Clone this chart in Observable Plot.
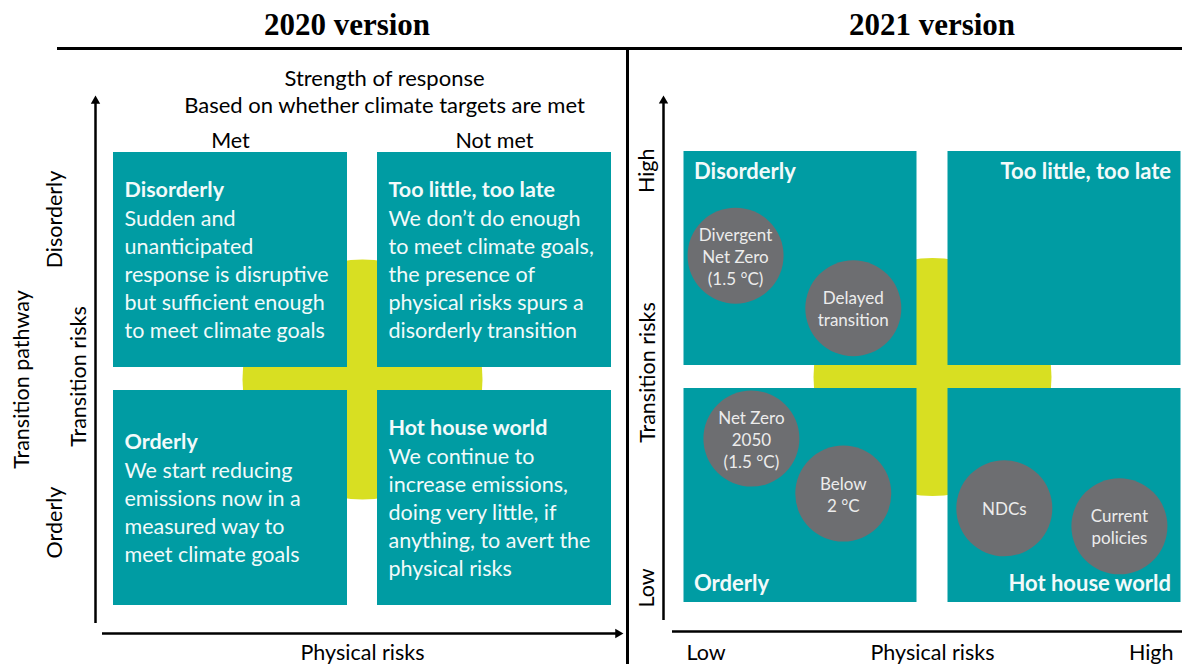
<!DOCTYPE html>
<html><head><meta charset="utf-8">
<script src="https://cdn.jsdelivr.net/npm/d3@7"></script>
<script src="https://cdn.jsdelivr.net/npm/@observablehq/plot@0.6"></script>
<style>
body{margin:0;background:#fff;}
#wrap{position:relative;width:1182px;height:664px;overflow:hidden;background:#fff;}
.vtitle{position:absolute;top:8px;width:300px;text-align:center;font:bold 31px "Liberation Serif","DejaVu Serif",serif;line-height:34px;color:#000;}
#rule{position:absolute;left:57px;top:47px;width:1125px;height:3px;background:#000;}
#divider{position:absolute;left:626px;top:47px;width:2.5px;height:617px;background:#000;}
#left{position:absolute;left:0;top:48px;width:627px;height:616px;}
#right{position:absolute;left:628px;top:48px;width:554px;height:616px;overflow:hidden;}
#left svg,#right svg{max-width:none !important;height:616px !important;display:block;}
#right svg{margin-left:-1px;}
</style></head><body>
<div id="wrap">
  <div class="vtitle" id="t0" style="left:197px"></div>
  <div class="vtitle" id="t1" style="left:782px"></div>
  <div id="rule"></div>
  <div id="left"></div>
  <div id="right"></div>
  <div id="divider"></div>
</div>
<script>
// ---------- data ----------
const versions = ["2020 version", "2021 version"];
const scoreDomain = [0, 10];

// 2020 version
const responseTitle = ["Strength of response", "Based on whether climate targets are met"];
const responseLevels = ["Met", "Not met"];
const pathwayTitle = "Transition pathway";
const pathwayLevels = ["Orderly", "Disorderly"];
const riskAxisY = "Transition risks";
const riskAxisX = "Physical risks";
const quadrants2020 = [
  {name: "Disorderly", response: "Met", pathway: "Disorderly",
   description: "Sudden and\nunanticipated\nresponse is disruptive\nbut sufficient enough\nto meet climate goals"},
  {name: "Too little, too late", response: "Not met", pathway: "Disorderly",
   description: "We don’t do enough\nto meet climate goals,\nthe presence of\nphysical risks spurs a\ndisorderly transition"},
  {name: "Orderly", response: "Met", pathway: "Orderly",
   description: "We start reducing\nemissions now in a\nmeasured way to\nmeet climate goals"},
  {name: "Hot house world", response: "Not met", pathway: "Orderly",
   description: "We continue to\nincrease emissions,\ndoing very little, if\nanything, to avert the\nphysical risks"}
];

// 2021 version
const riskLevels = ["Low", "High"];
const quadrants2021 = [
  {name: "Disorderly", physical: "Low", transition: "High"},
  {name: "Too little, too late", physical: "High", transition: "High"},
  {name: "Orderly", physical: "Low", transition: "Low"},
  {name: "Hot house world", physical: "High", transition: "Low"}
];
const scenarioNames = ["Divergent\nNet Zero\n(1.5 °C)", "Delayed\ntransition", "Net Zero\n2050\n(1.5 °C)", "Below\n2 °C", "NDCs", "Current\npolicies"];
const physicalRisk   = [1.27, 3.50, 1.57, 3.31, 6.36, 8.54];
const transitionRisk = [7.56, 6.45, 3.70, 2.54, 2.23, 1.85];

// ---------- styles ----------
const TEAL = "#009ca3", LIME = "#d8df22", GREY = "#6d6e71", WHITE = "#f2fafa", INK = "#000";
const FONT = "Lato, 'Open Sans', sans-serif";
const FS = 21.5, LH = 28;
const mid = d3.mean(scoreDomain);
const centre = [[mid, mid]];
const scenarios = scenarioNames.map((name, i) => ({name, physical: physicalRisk[i], transition: transitionRisk[i]}));
const nLines = s => s.split("\n").length;

document.getElementById("t0").textContent = versions[0];
document.getElementById("t1").textContent = versions[1];

// ---------- 2020 panel ----------
const col = d => responseLevels.indexOf(d.response) * mid;
const row = d => pathwayLevels.indexOf(d.pathway) * mid;
const pathwayDy = {Disorderly: -41, Orderly: 24};

const left = Plot.plot({
  width: 627, height: 616,
  marginLeft: 98, marginRight: 1, marginTop: 93, marginBottom: 47,
  x: {domain: scoreDomain, axis: null},
  y: {domain: scoreDomain, axis: null},
  style: {fontFamily: FONT, background: "transparent", overflow: "visible"},
  marks: [
    Plot.dot(centre, {x: d => d[0], y: d => d[1], r: 120, fill: LIME}),
    Plot.rect(quadrants2020, {x1: col, x2: d => col(d) + mid, y1: row, y2: d => row(d) + mid,
      fill: TEAL, insetLeft: 15, insetRight: 15, insetTop: 11, insetBottom: 12}),
    ...quadrants2020.map(q => Plot.text([q], {x: col, y: d => row(d) + mid / 2, text: "name",
      textAnchor: "start", lineAnchor: "middle", dx: 26, dy: -nLines(q.description) * LH / 2,
      fontWeight: "bold", fontSize: FS, fill: WHITE})),
    Plot.text(quadrants2020, {x: col, y: d => row(d) + mid / 2, text: "description",
      textAnchor: "start", lineAnchor: "middle", dx: 26, dy: LH / 2 - 1, lineHeight: LH / FS, fontSize: FS, fill: WHITE}),
    // header
    Plot.text([responseTitle.join("\n")], {frameAnchor: "top", lineAnchor: "middle", dx: 22, dy: -50.5, lineHeight: 27 / 22, fontSize: 22, fill: INK}),
    Plot.text(responseLevels, {x: d => responseLevels.indexOf(d) * mid + mid / 2, frameAnchor: "top", lineAnchor: "middle", text: d => d, fontSize: FS, fill: INK}),
    // y side labels
    Plot.text([pathwayTitle], {frameAnchor: "left", textAnchor: "middle", lineAnchor: "middle", dx: -76, rotate: -90, fontSize: FS, fill: INK}),
    Plot.text([riskAxisY], {frameAnchor: "left", textAnchor: "middle", lineAnchor: "middle", dx: -19, dy: -3, rotate: -90, fontSize: FS, fill: INK}),
    ...pathwayLevels.map(p => Plot.text([p], {y: () => pathwayLevels.indexOf(p) * mid + mid / 2, frameAnchor: "left",
      textAnchor: "middle", lineAnchor: "middle", dx: -43, dy: pathwayDy[p], rotate: -90, text: d => d, fontSize: FS, fill: INK})),
    Plot.text([riskAxisX], {frameAnchor: "bottom", lineAnchor: "middle", dy: 36, fontSize: FS, fill: INK}),
    // axes with arrowheads
    Plot.ruleX([scoreDomain[0]], {dx: -3, insetTop: -41, insetBottom: -6, stroke: INK, strokeWidth: 2.5}),
    Plot.dot([[scoreDomain[0], scoreDomain[1]]], {x: d => d[0], y: d => d[1], dx: -3, dy: -40.5, symbol: "triangle", r: 3.5, fill: INK}),
    Plot.ruleY([scoreDomain[0]], {dy: 16, insetLeft: 4, insetRight: 8, stroke: INK, strokeWidth: 2.5}),
    Plot.dot([[scoreDomain[1], scoreDomain[0]]], {x: d => d[0], y: d => d[1], dx: -8.5, dy: 16, symbol: "triangle", rotate: 90, r: 3.5, fill: INK})
  ]
});
document.getElementById("left").append(left);

// ---------- 2021 panel ----------
const pc = d => riskLevels.indexOf(d.physical) * mid;
const tr = d => riskLevels.indexOf(d.transition) * mid;

const right = Plot.plot({
  width: 570, height: 616,
  marginLeft: 41, marginRight: 1, marginTop: 91.5, marginBottom: 50.5,
  x: {domain: scoreDomain, axis: null},
  y: {domain: scoreDomain, axis: null},
  style: {fontFamily: FONT, background: "transparent"},
  marks: [
    Plot.dot(centre, {x: d => d[0], y: d => d[1], r: 119, fill: LIME}),
    Plot.rect(quadrants2021, {x1: pc, x2: d => pc(d) + mid, y1: tr, y2: d => tr(d) + mid,
      fill: TEAL, insetLeft: 15.5, insetRight: 15.5, insetTop: 11.5, insetBottom: 11.5}),
    ...quadrants2021.map(q => {
      const hiX = q.physical === "High", hiY = q.transition === "High";
      return Plot.text([q], {x: () => hiX ? scoreDomain[1] : scoreDomain[0], y: () => hiY ? scoreDomain[1] : scoreDomain[0],
        text: "name", textAnchor: hiX ? "end" : "start", lineAnchor: "middle", dx: hiX ? -25.5 : 25.5, dy: hiY ? 31.5 : -30.5,
        fontWeight: "bold", fontSize: 22, fill: WHITE});
    }),
    Plot.dot(scenarios, {x: "physical", y: "transition", r: 48, fill: GREY}),
    Plot.text(scenarios, {x: "physical", y: "transition", text: "name", lineAnchor: "middle", fontSize: 17, lineHeight: 22 / 17, fill: "#ececec"}),
    // y axis labels
    Plot.text([riskLevels[1]], {frameAnchor: "top-left", dx: -21, dy: 8.5, rotate: -90, textAnchor: "end", lineAnchor: "middle", fontSize: FS, fill: INK}),
    Plot.text([riskLevels[0]], {frameAnchor: "bottom-left", dx: -21, dy: -6.5, rotate: -90, textAnchor: "start", lineAnchor: "middle", fontSize: FS, fill: INK}),
    Plot.text([riskAxisY], {frameAnchor: "left", dx: -20, dy: -4.5, rotate: -90, textAnchor: "middle", lineAnchor: "middle", fontSize: FS, fill: INK}),
    // x axis labels
    Plot.text([riskLevels[0]], {frameAnchor: "bottom-left", dx: 18, dy: 39.5, textAnchor: "start", lineAnchor: "middle", fontSize: FS, fill: INK}),
    Plot.text([riskAxisX], {frameAnchor: "bottom", dy: 39.5, lineAnchor: "middle", fontSize: FS, fill: INK}),
    Plot.text([riskLevels[1]], {frameAnchor: "bottom-right", dx: -23, dy: 39.5, textAnchor: "end", lineAnchor: "middle", fontSize: FS, fill: INK}),
    // axes
    Plot.ruleX([scoreDomain[0]], {dx: -5, insetTop: -40, insetBottom: -6.5, stroke: INK, strokeWidth: 2.5}),
    Plot.dot([[scoreDomain[0], scoreDomain[1]]], {x: d => d[0], y: d => d[1], dx: -5, dy: -39.1, symbol: "triangle", r: 3.5, fill: INK}),
    Plot.ruleY([scoreDomain[0]], {dy: 17.5, insetLeft: 4, insetRight: -20, stroke: INK, strokeWidth: 2.5})
  ]
});
document.getElementById("right").append(right);
</script>
</body></html>
